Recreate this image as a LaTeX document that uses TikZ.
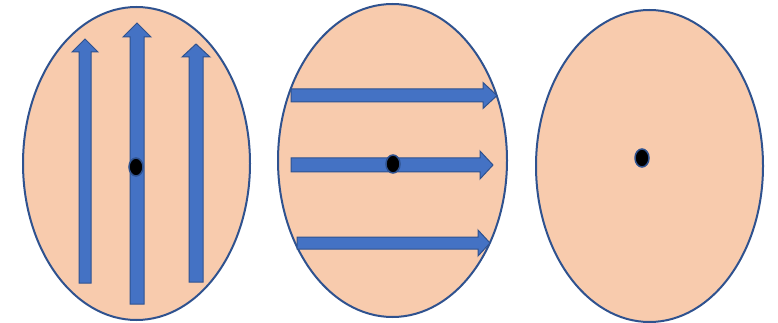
\documentclass[tikz,border=0pt]{standalone}
\definecolor{peach}{HTML}{F8CBAD}
\definecolor{edgeblue}{HTML}{2F528F}
\definecolor{arrblue}{HTML}{4472C4}
\tikzset{
  disc/.style={fill=peach,draw=edgeblue,line width=2pt},
  fatarrow/.style={fill=arrblue,draw=edgeblue,line width=1pt,line join=miter},
  pivot/.style={fill=black,draw=edgeblue,line width=1.5pt}
}
\newcommand\uparrowshape[6]{% c w h tip base end
  \draw[fatarrow] ({#1-#2},#6) -- ({#1-#2},#5) -- ({#1-#3},#5) -- (#1,#4) -- ({#1+#3},#5) -- ({#1+#2},#5) -- ({#1+#2},#6) -- cycle;}
\newcommand\rightarrowshape[6]{% c w h start base tip
  \draw[fatarrow] (#4,{#1-#2}) -- (#5,{#1-#2}) -- (#5,{#1-#3}) -- (#6,#1) -- (#5,{#1+#3}) -- (#5,{#1+#2}) -- (#4,{#1+#2}) -- cycle;}
\begin{document}
\begin{tikzpicture}[x=1pt,y=-1pt]
\useasboundingbox (0,0) rectangle (778,323);
% ellipse 1
\draw[disc] (136.5,163.5) ellipse [x radius=113.5,y radius=156.5];
\uparrowshape{85}{6}{13}{39}{52}{283}
\uparrowshape{137}{7}{14}{23}{37}{304}
\uparrowshape{196}{7}{14}{44}{57}{282}
\draw[pivot] (136,167) ellipse [x radius=7,y radius=9];
% ellipse 2
\draw[disc] (392.5,160.5) ellipse [x radius=114.5,y radius=156.5];
\rightarrowshape{95.5}{6.5}{13}{291}{483}{497}
\rightarrowshape{165}{7}{14}{291}{480}{493}
\rightarrowshape{243}{6}{13}{297}{478}{490}
\draw[pivot] (393,164) ellipse [x radius=7,y radius=9];
% ellipse 3
\draw[disc] (649.5,166) ellipse [x radius=113.5,y radius=156];
\draw[pivot] (642,158) ellipse [x radius=7,y radius=9];
\end{tikzpicture}
\end{document}
